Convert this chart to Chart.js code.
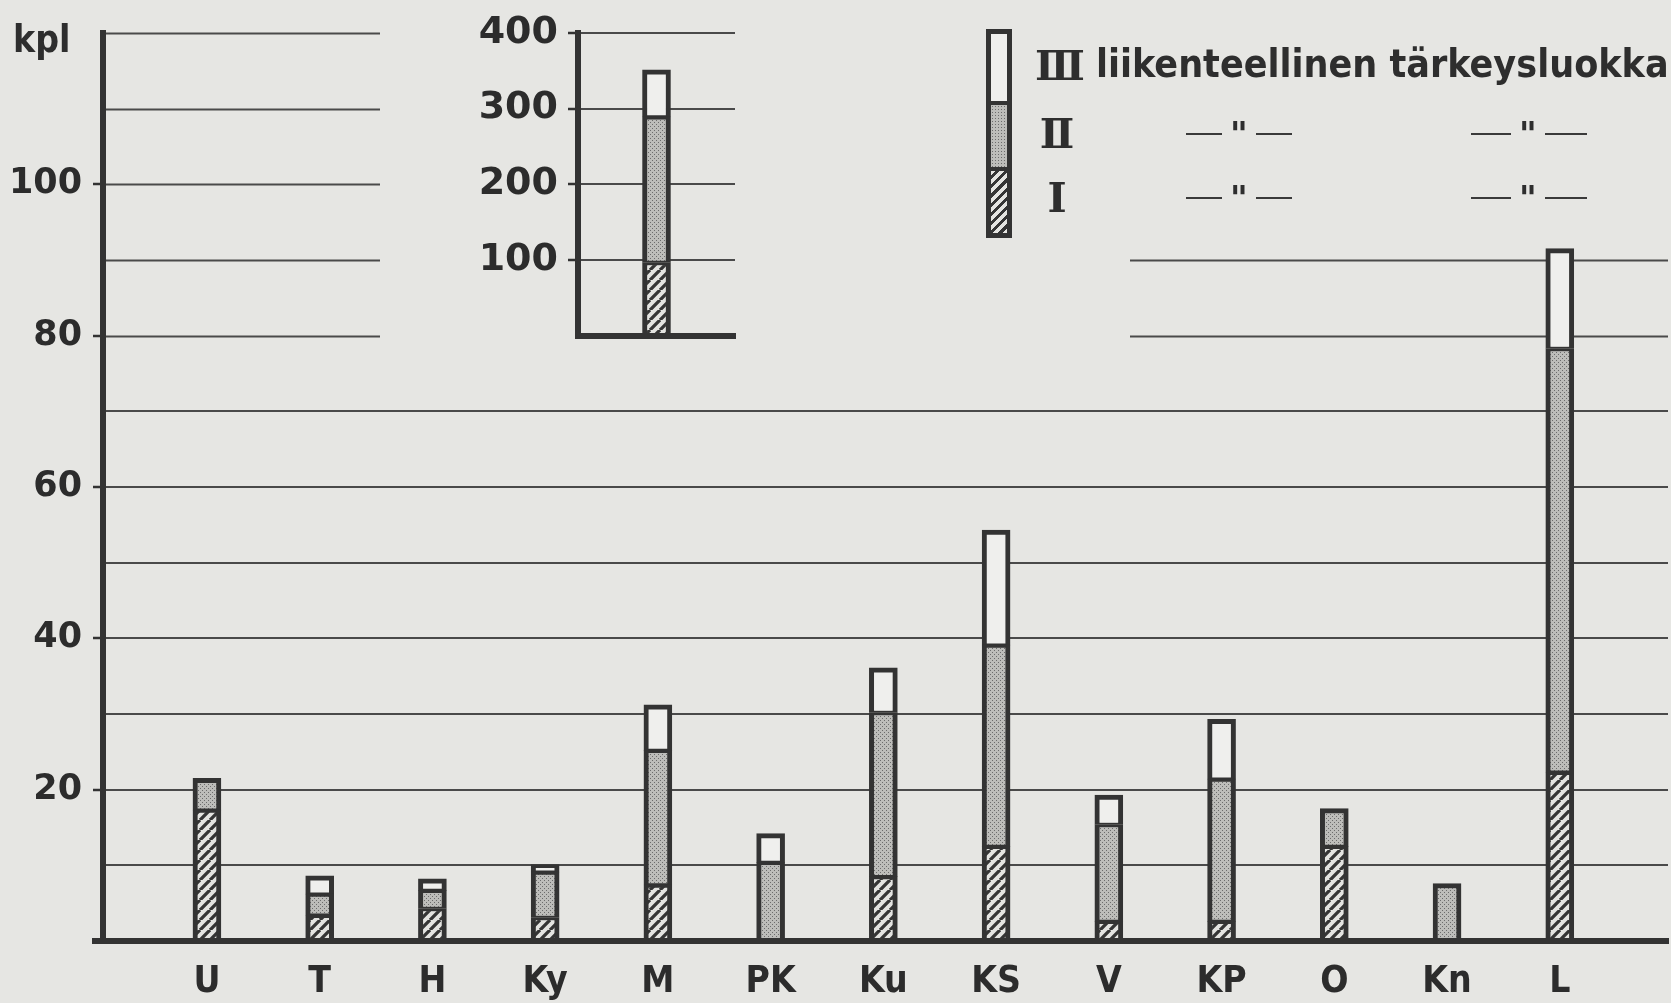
<!DOCTYPE html>
<html lang="fi">
<head>
<meta charset="UTF-8">
<title>Liikenteellinen tärkeysluokka</title>
<script src="https://cdn.jsdelivr.net/npm/chart.js"></script>
<style>
  body { margin: 0; background: #e6e6e3; }
  #wrap { position: relative; width: 1671px; height: 1003px; overflow: hidden; }
  #main { position: absolute; left: 0; top: 0; }
  #inset { position: absolute; left: 460px; top: 0; }
  .lg { position: absolute; color: #2e2e2e; white-space: nowrap; }
  .rn { font-family: "DejaVu Serif", serif; font-weight: bold; font-size: 41px; line-height: 42px; }
  .txt { font-family: "DejaVu Sans Condensed", "DejaVu Sans", sans-serif; font-weight: bold; font-size: 39px; line-height: 44px; }
  .ditto { display: flex; align-items: center; gap: 8px; font-family: "DejaVu Sans", sans-serif; font-weight: bold; font-size: 34px; line-height: 20px; }
  .ditto i { display: inline-block; border-top: 2.5px solid #3a3a3a; }
  #unit { left: 13px; top: 19px; font-family: "DejaVu Sans Condensed", "DejaVu Sans", sans-serif; font-weight: bold; font-size: 37px; line-height: 42px; }
  #swatch { position: absolute; left: 986px; top: 29px; width: 16px; border: 5px solid #333; }
  #swatch div { border-top: 4px solid #333; }
  #swatch div:first-child { border-top: none; }
</style>
</head>
<body>
<div id="wrap">
  <canvas id="main" width="1671" height="1003"></canvas>
  <canvas id="inset" width="290" height="370"></canvas>
  <div id="legend"></div>
</div>
<script>
    // kpl per area, split by traffic importance class (I, II, III)
    var categories = ['U', 'T', 'H', 'Ky', 'M', 'PK', 'Ku', 'KS', 'V', 'KP', 'O', 'Kn', 'L'];
    var classI   = [17.3, 3.4, 4.3, 3.1, 7.4, null, 8.5, 12.5, 2.6, 2.6, 12.5, null, 22.3];
    var classII  = [4.2, 2.8, 2.4, 6.0, 17.8, 10.4, 21.7, 26.6, 12.8, 18.8, 5.0, 7.6, 56.0];
    var classIII = [null, 2.4, 1.5, 1.0, 6.0, 3.8, 5.9, 15.2, 3.9, 7.9, null, null, 13.2];

    // the small inset bar (all areas together)
    var insetLabels = ['Yht.'];
    var insetI   = [97];
    var insetII  = [192];
    var insetIII = [62];

    var seriesNames = ['I', 'II', 'III'];
    var legendTitle = 'liikenteellinen tärkeysluokka';
    var unitLabel = 'kpl';
    var mainTicksLabelled = [20, 40, 60, 80, 100];
    var insetTicksLabelled = [100, 200, 300, 400];

    var ink = '#333333';
    var gridInk = '#4a4a4a';
    var textInk = '#2c2c2c';
    var numFont = '"DejaVu Sans", sans-serif';
    var letterFont = '"DejaVu Sans Condensed", "DejaVu Sans", sans-serif';

    Chart.defaults.font.family = letterFont;
    Chart.defaults.font.weight = 'bold';
    Chart.defaults.color = textInk;

    function hatch(ctx) {
        var c = document.createElement('canvas');
        c.width = 10; c.height = 10;
        var g = c.getContext('2d');
        g.fillStyle = '#e4e4e1';
        g.fillRect(0, 0, 10, 10);
        g.strokeStyle = '#353535';
        g.lineWidth = 3.3;
        g.beginPath();
        [-10, 0, 10].forEach(o => { g.moveTo(o, 10); g.lineTo(o + 10, 0); });
        g.stroke();
        return ctx.createPattern(c, 'repeat');
    }

    function dots(ctx) {
        var c = document.createElement('canvas');
        c.width = 4; c.height = 4;
        var g = c.getContext('2d');
        g.fillStyle = '#bdbdba';
        g.fillRect(0, 0, 4, 4);
        g.fillStyle = '#6c6c6c';
        g.fillRect(0, 0, 1, 1);
        g.fillRect(2, 2, 1, 1);
        return ctx.createPattern(c, 'repeat');
    }

    function stacks(series, ctx) {
        var fills = [hatch(ctx), dots(ctx), '#efefed'];
        return series.map((data, k) => ({
            label: seriesNames[k],
            data: data,
            backgroundColor: fills[k],
            borderColor: ink,
            borderSkipped: false,
            barThickness: 28,
            borderWidth: c => {
                if (c.dataIndex === undefined) return 5;
                var top = -1;
                series.forEach((s, j) => { if (s[c.dataIndex] != null) top = j; });
                return { left: 5, right: 5, top: top === k ? 5 : 3, bottom: 2 };
            }
        }));
    }

    // gridlines above 80 only run where the picture has them
    var partialGrid = {
        id: 'partialGrid',
        beforeDatasetsDraw(chart) {
            var ctx = chart.ctx, y = chart.scales.y, area = chart.chartArea;
            ctx.save();
            ctx.strokeStyle = gridInk;
            ctx.lineWidth = 2;
            [80, 90, 100, 110, 120].forEach(v => {
                var py = Math.round(y.getPixelForValue(v)) + 0.5;
                ctx.beginPath();
                ctx.moveTo(area.left, py); ctx.lineTo(380, py);
                if (v <= 90) { ctx.moveTo(1130, py); ctx.lineTo(area.right, py); }
                ctx.stroke();
            });
            ctx.restore();
        },
        afterDraw(chart) {
            var ctx = chart.ctx, y = chart.scales.y, area = chart.chartArea;
            var py = y.getPixelForValue(0);
            ctx.save();
            ctx.strokeStyle = ink;
            ctx.lineWidth = 6;
            ctx.beginPath();
            ctx.moveTo(92, py); ctx.lineTo(area.left, py);
            ctx.stroke();
            ctx.restore();
        }
    };

    var mainCanvas = document.getElementById('main');
    new Chart(mainCanvas, {
        type: 'bar',
        data: {
            labels: categories.map((c, i) => i),
            datasets: stacks([classI, classII, classIII], mainCanvas.getContext('2d'))
        },
        options: {
            responsive: false,
            animation: false,
            layout: { padding: { top: 33, right: 3, left: 0, bottom: 0 } },
            plugins: { legend: { display: false }, tooltip: { enabled: false } },
            scales: {
                x: {
                    type: 'linear',
                    offset: false,
                    stacked: true,
                    min: -0.922,
                    max: 12.96,
                    afterFit: s => { s.height = 62; },
                    grid: { display: false, drawTicks: false },
                    border: { display: true, width: 6, color: ink, z: 1 },
                    ticks: {
                        stepSize: 1, includeBounds: false, autoSkip: false, maxRotation: 0, maxTicksLimit: 30,
                        padding: 19, font: { size: 37 },
                        callback: v => categories[v] ?? ''
                    }
                },
                y: {
                    stacked: true,
                    min: 0,
                    max: 120,
                    afterFit: s => { s.width = 103; },
                    border: { display: true, width: 6, color: ink, z: 1 },
                    grid: {
                        lineWidth: 2,
                        color: c => (c.tick && c.tick.value > 0 && c.tick.value < 80) ? gridInk : 'rgba(0,0,0,0)',
                        tickLength: 10,
                        tickWidth: 2.5,
                        tickColor: c => (c.tick && mainTicksLabelled.includes(c.tick.value)) ? ink : 'rgba(0,0,0,0)'
                    },
                    ticks: {
                        stepSize: 10, autoSkip: false, maxTicksLimit: 20,
                        padding: 11, font: { size: 35, family: numFont },
                        callback: v => mainTicksLabelled.includes(v) ? String(v) : ''
                    }
                }
            }
        },
        plugins: [partialGrid]
    });

    var insetCanvas = document.getElementById('inset');
    new Chart(insetCanvas, {
        type: 'bar',
        data: {
            labels: insetLabels,
            datasets: stacks([insetI, insetII, insetIII], insetCanvas.getContext('2d'))
        },
        options: {
            responsive: false,
            animation: false,
            layout: { padding: { top: 32, right: 15, left: 0, bottom: 0 } },
            plugins: { legend: { display: false }, tooltip: { enabled: false } },
            scales: {
                x: {
                    stacked: true,
                    afterFit: s => { s.height = 34; },
                    grid: { display: false, drawTicks: false },
                    border: { display: true, width: 6, color: ink, z: 1 },
                    ticks: { display: false }
                },
                y: {
                    stacked: true,
                    min: 0,
                    max: 400,
                    afterFit: s => { s.width = 118; },
                    border: { display: true, width: 6, color: ink, z: 1 },
                    grid: {
                        lineWidth: 2,
                        color: c => (c.tick && c.tick.value > 0) ? gridInk : 'rgba(0,0,0,0)',
                        tickLength: 10,
                        tickWidth: 2.5,
                        tickColor: c => (c.tick && insetTicksLabelled.includes(c.tick.value)) ? ink : 'rgba(0,0,0,0)'
                    },
                    ticks: {
                        stepSize: 100, autoSkip: false, maxTicksLimit: 20,
                        padding: 10, font: { size: 38, family: numFont },
                        callback: v => insetTicksLabelled.includes(v) ? String(v) : ''
                    }
                }
            }
        }
    });

    // legend: a stacked swatch, roman numerals and ditto marks
    var legend = document.getElementById('legend');
    var unit = document.createElement('div');
    unit.id = 'unit';
    unit.className = 'lg';
    unit.textContent = unitLabel;
    legend.appendChild(unit);

    var sw = document.createElement('div');
    sw.id = 'swatch';
    [['#efefed', 67], ['radial-gradient(#6c6c6c 0.8px, #bdbdba 1px) 0 0 / 3px 3px', 62], ['repeating-linear-gradient(-45deg, #e4e4e1 0 3.5px, #353535 3.5px 6.5px)', 62]]
        .forEach(f => {
            var d = document.createElement('div');
            d.style.background = f[0];
            d.style.height = f[1] + 'px';
            sw.appendChild(d);
        });
    legend.appendChild(sw);

    var rowY = [198, 134, 66];   // I, II, III centre lines
    var numerals = ['Ⅰ', 'Ⅱ', 'Ⅲ'];
    seriesNames.forEach((name, k) => {
        var rn = document.createElement('div');
        rn.className = 'lg rn';
        rn.textContent = numerals[k];
        rn.style.left = '1035px';
        rn.style.width = '44px';
        rn.style.textAlign = 'center';
        rn.style.top = (rowY[k] - 21) + 'px';
        legend.appendChild(rn);
        if (k === 2) {
            var t = document.createElement('div');
            t.className = 'lg txt';
            t.textContent = legendTitle;
            t.style.left = '1096px';
            t.style.top = (rowY[k] - 24) + 'px';
            legend.appendChild(t);
        } else {
            [[1186, 36, 36], [1471, 40, 42]].forEach(p => {
                var d = document.createElement('div');
                d.className = 'lg ditto';
                d.style.left = p[0] + 'px';
                d.style.top = (rowY[k] - 10) + 'px';
                d.innerHTML = '<i style="width:' + p[1] + 'px"></i><span>"</span><i style="width:' + p[2] + 'px"></i>';
                legend.appendChild(d);
            });
        }
    });
</script>
</body>
</html>
